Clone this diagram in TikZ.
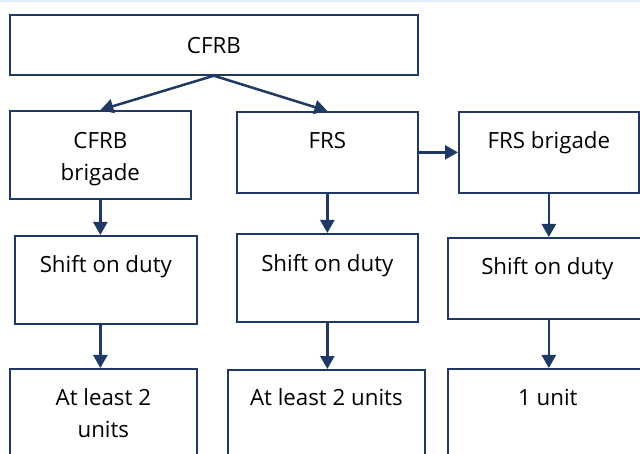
\documentclass[tikz,border=0pt]{standalone}
\usepackage{fontspec}
\setmainfont{Open Sans}
\usetikzlibrary{arrows.meta,calc}
\definecolor{boxc}{RGB}{31,56,100}
\definecolor{topline}{RGB}{222,239,248}
\begin{document}
\begin{tikzpicture}[x=1pt,y=-1pt,
  bx/.style={draw=boxc, line width=1.7pt, anchor=north west, inner sep=0pt,
    align=center, font=\fontsize{22.3}{32.7}\selectfont},
  arr/.style={draw=boxc, line width=2.5pt, -{Triangle[length=13pt,width=14pt]}}]
\useasboundingbox (0,0) rectangle (640,454);
\clip (0,0) rectangle (640,454);
\fill[topline] (0,0) rectangle (640,2);
% row 1
\node[bx, minimum width=408, text height=39, text depth=21] (top) at (9,14) {CFRB};
% row 2
\node[bx, minimum width=181, text height=70, text depth=18] (b1) at (9,110) {CFRB\\brigade};
\node[bx, minimum width=181, text height=37, text depth=44] (b2) at (236,111) {FRS};
\node[bx, minimum width=180, text height=37, text depth=44] (b3) at (458,111) {FRS brigade};
% row 3
\node[bx, minimum width=182, text height=37, text depth=51] (s1) at (14,235) {Shift on duty};
\node[bx, minimum width=181, text height=38, text depth=50] (s2) at (236,233) {Shift on duty};
\node[bx, minimum width=199, text height=37, text depth=44] (s3) at (447,237) {Shift on duty};
% row 4
\node[bx, minimum width=187, text height=69, text depth=63] (u1) at (9,368) {At least 2\\units};
\node[bx, minimum width=197, text height=36, text depth=95] (u2) at (227,369) {At least 2 units};
\node[bx, minimum width=200, text height=37, text depth=95] (u3) at (447,368) {1 unit};
% connectors
\draw[arr] (top.south) -- (b1.north);
\draw[arr] (top.south) -- (b2.north);
\draw[arr] (b2.east) -- (b3.west);
\draw[arr] (b1.south) -- (b1.south |- s1.north);
\draw[arr] (b2.south) -- (b2.south |- s2.north);
\draw[arr] (b3.south) -- (b3.south |- s3.north);
\draw[arr] (b1.south |- s1.south) -- (b1.south |- u1.north);
\draw[arr] (b2.south |- s2.south) -- (b2.south |- u2.north);
\draw[arr] (b3.south |- s3.south) -- (b3.south |- u3.north);
\end{tikzpicture}
\end{document}
